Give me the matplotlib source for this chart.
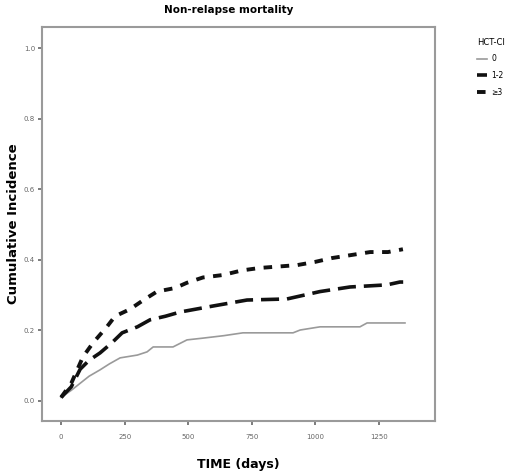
import matplotlib
matplotlib.use("Agg")
import matplotlib.pyplot as plt

# Data (cumulative incidence curves)
t_g0 = [0, 40, 75, 110, 153, 190, 232, 300, 338, 362, 440, 495, 558, 640, 715, 912, 940, 1018, 1175, 1203, 1352]
v_g0 = [0.01, 0.03, 0.05, 0.07, 0.088, 0.105, 0.122, 0.13, 0.139, 0.153, 0.153, 0.173, 0.178, 0.185, 0.193, 0.193, 0.201, 0.21, 0.21, 0.221, 0.221]

t_g12 = [0, 40, 75, 110, 153, 200, 240, 300, 350, 410, 468, 597, 731, 888, 1018, 1136, 1281, 1332, 1345]
v_g12 = [0.01, 0.04, 0.09, 0.115, 0.136, 0.165, 0.193, 0.21, 0.23, 0.24, 0.252, 0.269, 0.286, 0.289, 0.31, 0.323, 0.329, 0.337, 0.337]

t_g3 = [0, 40, 86, 126, 180, 212, 271, 322, 377, 448, 495, 558, 637, 711, 782, 928, 998, 1065, 1136, 1215, 1285, 1344]
v_g3 = [0.01, 0.05, 0.125, 0.165, 0.21, 0.24, 0.26, 0.285, 0.31, 0.32, 0.335, 0.35, 0.357, 0.37, 0.377, 0.385, 0.394, 0.405, 0.413, 0.422, 0.422, 0.43]

x_ticks = [0, 250, 500, 750, 1000, 1250]
y_ticks = [0.0, 0.2, 0.4, 0.6, 0.8, 1.0]
group_labels = ["0", "1-2", "\u22653"]

fig = plt.figure(figsize=(5.2, 4.73), dpi=100)
ax = fig.add_axes([0.0808, 0.1099, 0.7557, 0.833])

ax.plot(t_g0, v_g0, color="#9a9a9a", lw=1.2, label=group_labels[0])
ax.plot(t_g12, v_g12, color="#111111", lw=2.6, linestyle=(0, (5, 2.2)), label=group_labels[1])
ax.plot(t_g3, v_g3, color="#111111", lw=2.8, linestyle=(0, (2.2, 2.2)), label=group_labels[2])

ax.set_xlim(-75, 1470)
ax.set_ylim(-0.057, 1.06)
ax.set_xticks(x_ticks)
ax.set_xticklabels([str(v) for v in x_ticks])
ax.set_yticks(y_ticks)
ax.set_yticklabels([f"{v:.1f}" for v in y_ticks])

for s in ax.spines.values():
    s.set_color("#9a9a9a")
    s.set_linewidth(1.5)

ax.tick_params(axis="both", colors="#666666", labelsize=5, length=3, width=1.2, direction="out")
ax.tick_params(axis="x", pad=6)
ax.tick_params(axis="y", pad=2)

ax.set_title("Non-relapse mortality", fontsize=7.5, fontweight="bold", pad=10, x=0.475)
ax.set_xlabel("TIME (days)", fontsize=9, fontweight="bold", labelpad=13)
ax.set_ylabel("Cumulative Incidence", fontsize=9.5, fontweight="bold", labelpad=3)

leg = fig.legend(loc="upper left", bbox_to_anchor=(0.905, 0.935), frameon=False,
                 title="HCT-CI", fontsize=5.5, title_fontsize=6,
                 handlelength=1.3, handletextpad=0.5, labelspacing=1.0, alignment="left")

fig.savefig("out.png", dpi=100, facecolor="white")
